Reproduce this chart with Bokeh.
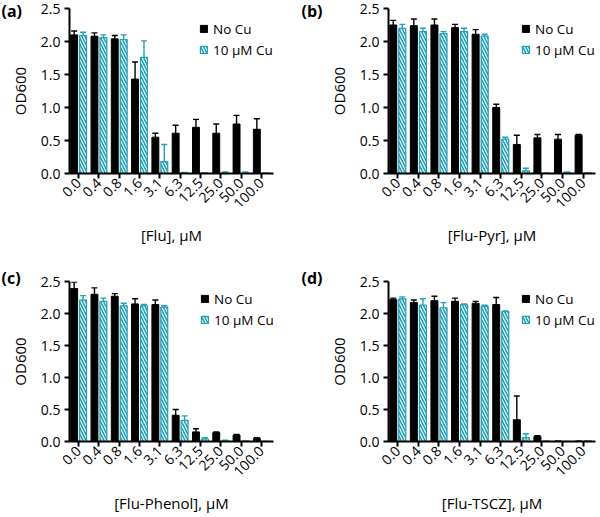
from bokeh.plotting import figure
from bokeh.layouts import gridplot
from bokeh.models import (ColumnDataSource, Range1d, FixedTicker, Whisker, TeeHead,
                          Label, Legend, LegendItem, NumeralTickFormatter)
from bokeh.transform import dodge
from bokeh.embed import file_html
from bokeh.resources import INLINE

# ---------------- data ----------------
concentrations = ["0.0", "0.4", "0.8", "1.6", "3.1", "6.3", "12.5", "25.0", "50.0", "100.0"]
series_names = ["No Cu", "10 \u03bcM Cu"]
panel_letters = ["(a)", "(b)", "(c)", "(d)"]
x_titles = ["[Flu], \u03bcM", "[Flu-Pyr], \u03bcM", "[Flu-Phenol], \u03bcM", "[Flu-TSCZ], \u03bcM"]
y_ticks = [0.0, 0.5, 1.0, 1.5, 2.0, 2.5]

flu_nocu = [2.10, 2.08, 2.04, 1.43, 0.55, 0.61, 0.70, 0.61, 0.75, 0.67]
flu_nocu_err = [0.06, 0.05, 0.05, 0.26, 0.06, 0.12, 0.12, 0.14, 0.13, 0.16]
flu_cu = [2.09, 2.06, 2.03, 1.76, 0.18, 0.01, 0.005, 0.01, 0.01, 0.005]
flu_cu_err = [0.05, 0.04, 0.07, 0.25, 0.26, 0.005, 0.0, 0.015, 0.015, 0.0]

pyr_nocu = [2.25, 2.24, 2.25, 2.21, 2.11, 1.00, 0.44, 0.54, 0.52, 0.58]
pyr_nocu_err = [0.07, 0.10, 0.09, 0.05, 0.07, 0.05, 0.14, 0.05, 0.07, 0.01]
pyr_cu = [2.20, 2.15, 2.12, 2.15, 2.08, 0.52, 0.04, 0.005, 0.01, 0.005]
pyr_cu_err = [0.06, 0.05, 0.03, 0.05, 0.03, 0.03, 0.04, 0.0, 0.015, 0.0]

phe_nocu = [2.39, 2.30, 2.27, 2.15, 2.14, 0.41, 0.15, 0.14, 0.10, 0.05]
phe_nocu_err = [0.10, 0.10, 0.04, 0.08, 0.07, 0.09, 0.05, 0.01, 0.01, 0.01]
phe_cu = [2.21, 2.19, 2.12, 2.12, 2.10, 0.33, 0.04, 0.01, 0.005, 0.0]
phe_cu_err = [0.07, 0.05, 0.04, 0.02, 0.02, 0.07, 0.02, 0.01, 0.0, 0.0]

tscz_nocu = [2.22, 2.17, 2.20, 2.19, 2.16, 2.14, 0.34, 0.08, 0.005, 0.005]
tscz_nocu_err = [0.02, 0.04, 0.07, 0.05, 0.03, 0.11, 0.37, 0.01, 0.0, 0.0]
tscz_cu = [2.23, 2.13, 2.09, 2.14, 2.11, 2.03, 0.06, 0.005, 0.0, 0.01]
tscz_cu_err = [0.03, 0.10, 0.08, 0.01, 0.02, 0.01, 0.06, 0.0, 0.0, 0.0]

panels = [
    (flu_nocu, flu_nocu_err, flu_cu, flu_cu_err),
    (pyr_nocu, pyr_nocu_err, pyr_cu, pyr_cu_err),
    (phe_nocu, phe_nocu_err, phe_cu, phe_cu_err),
    (tscz_nocu, tscz_nocu_err, tscz_cu, tscz_cu_err),
]

# ---------------- style ----------------
FONT = "Open Sans"
TEAL = "#22a0b6"
BLACK = "#000000"
BAR_W = 0.34
OFF = 0.22
X0, X1 = -0.45, 9.6
Y0, Y1 = 0.0, 2.5


def make_panel(i, width, height, bl, br, bt, bb, legend_x, letter_dy, letter_side):
    nocu, nocu_err, cu, cu_err = panels[i]
    idx = list(range(len(concentrations)))
    src = ColumnDataSource(dict(
        x=idx, nocu=nocu, cu=cu,
        nocu_hi=[a + b for a, b in zip(nocu, nocu_err)],
        cu_hi=[a + b for a, b in zip(cu, cu_err)],
    ))
    p = figure(width=width, height=height, output_backend="svg", toolbar_location=None,
               x_range=Range1d(X0, X1), y_range=Range1d(Y0, Y1),
               min_border_left=bl, min_border_right=br,
               min_border_top=bt, min_border_bottom=bb,
               background_fill_color=None, border_fill_color=None, outline_line_color=None)
    p.grid.visible = False
    frame_w = width - bl - br
    frame_h = height - bt - bb

    r1 = p.vbar(x=dodge("x", -OFF), top="nocu", width=BAR_W, source=src,
                fill_color=BLACK, line_color=BLACK, line_width=1)
    r2 = p.vbar(x=dodge("x", OFF), top="cu", width=BAR_W, source=src,
                fill_color=TEAL, line_color=TEAL, line_width=1.2,
                hatch_pattern="left_diagonal_line", hatch_color="white",
                hatch_weight=1.1, hatch_scale=6)

    for col, lo, hi, off in ((BLACK, "nocu", "nocu_hi", -OFF), (TEAL, "cu", "cu_hi", OFF)):
        w = Whisker(base=dodge("x", off), lower=lo, upper=hi, source=src,
                    dimension="height", line_color=col, line_width=1.4,
                    upper_head=TeeHead(size=6, line_color=col, line_width=1.4),
                    lower_head=None)
        p.add_layout(w)

    for ax in (p.xaxis[0], p.yaxis[0]):
        ax.axis_line_width = 2
        ax.axis_line_color = "black"
        ax.major_tick_line_width = 2
        ax.major_tick_line_color = "black"
        ax.major_tick_out = 5
        ax.major_tick_in = 0
        ax.minor_tick_line_color = None
        ax.major_label_text_font = FONT
        ax.major_label_text_font_size = "14px"
        ax.major_label_text_color = "black"
        ax.axis_label_text_font = FONT
        ax.axis_label_text_font_style = "normal"
        ax.axis_label_text_color = "black"

    p.xaxis.ticker = FixedTicker(ticks=idx)
    p.xaxis.major_label_overrides = {k: concentrations[k] for k in idx}
    p.xaxis.major_label_orientation = 0.785398
    p.xaxis.major_label_standoff = 2
    p.xaxis.axis_label = x_titles[i]
    p.xaxis.axis_label_text_font_size = "15px"
    p.xaxis.axis_label_standoff = 9

    p.yaxis.ticker = FixedTicker(ticks=y_ticks)
    p.yaxis.formatter = NumeralTickFormatter(format="0.0")
    p.yaxis.axis_label = "OD600"
    p.yaxis.axis_label_text_font_size = "15px"
    p.yaxis.axis_label_standoff = 8
    p.yaxis.major_label_standoff = 4

    legend = Legend(items=[LegendItem(label=series_names[0], renderers=[r1]),
                           LegendItem(label=series_names[1], renderers=[r2])],
                    location=(legend_x, frame_h - 51), orientation="vertical",
                    background_fill_alpha=0, border_line_color=None,
                    padding=0, margin=0, spacing=2, label_standoff=5,
                    glyph_width=9, glyph_height=9, label_height=19,
                    label_text_font=FONT, label_text_font_size="13.5px",
                    label_text_color="black")
    p.add_layout(legend)

    # panel letter, placed in a side panel (not clipped to the frame)
    px_x = frame_w / (X1 - X0)
    px_y = frame_h / (Y1 - Y0)
    lab = Label(x=X0 - (bl - 1) / px_x, y=Y1 - letter_dy / px_y,
                text=panel_letters[i], text_font=FONT,
                text_font_style="bold", text_font_size="16px", text_color="black",
                text_baseline="middle", text_align="left")
    p.add_layout(lab, letter_side)
    return p


H1, H2 = 258, 257
W1, W2 = 300, 298
pa = make_panel(0, W1, H1, 69, 27, 8, 85, 130, 2, "right")
pb = make_panel(1, W2, H1, 88, 3, 8, 85, 133, 2, "left")
pc = make_panel(2, W1, H2, 69, 27, 23, 71, 131, -4, "right")
pd = make_panel(3, W2, H2, 88, 3, 23, 71, 133, -4, "left")

grid = gridplot([[pa, pb], [pc, pd]], toolbar_location=None)
open("out.html", "w").write(file_html(grid, INLINE))
